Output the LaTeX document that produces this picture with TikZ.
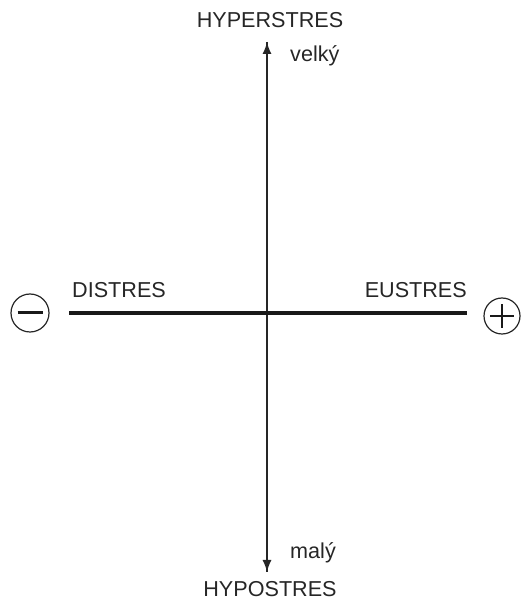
\documentclass[tikz,border=0pt]{standalone}
\usepackage{fontspec}
\setmainfont{Liberation Sans}
\usetikzlibrary{arrows.meta}
\begin{document}
\begin{tikzpicture}[x=1pt,y=1pt,
  lbl/.style={inner sep=0pt,font=\fontsize{21.6}{26}\selectfont,text=black!85},
  axis/.style={line width=1.5pt,draw=black!85,-{Latex[length=12pt,width=9pt]}},
  hline/.style={line width=3.5pt,draw=black!90},
  sign/.style={circle,draw=black!85,line width=1.2pt,minimum size=38pt,inner sep=0pt},
  bar/.style={line width=3pt,draw=black!90}]
\useasboundingbox (0,0) rectangle (523,603);
% vertical axis
\coordinate (vbot) at (267,31);
\coordinate (vtop) at (267,561);
\draw[axis] (vbot) -- (vtop);
\draw[axis] (vtop) -- (vbot);
% horizontal axis
\coordinate (hl) at (69,290);
\coordinate (hr) at (467,290);
\draw[hline] (hl) -- (hr);
% labels
\node[lbl,anchor=base] (hyper) at (270,575) {HYPERSTRES};
\node[lbl,anchor=base west] (velky) at (290,541) {velký};
\node[lbl,anchor=base west] (maly) at (290,45) {malý};
\node[lbl,anchor=base] (hypo) at (270,6) {HYPOSTRES};
\node[lbl,anchor=base west] (dis) at (72,305) {DISTRES};
\node[lbl,anchor=base east] (eu) at (467,305) {EUSTRES};
% signs
\node[sign] (minus) at (30,290) {};
\draw[bar] ([xshift=-12.5pt]minus.center) -- ([xshift=12.5pt]minus.center);
\node[sign,minimum size=36pt] (plus) at (502,287) {};
\draw[bar,line width=2.6pt] ([xshift=-12pt]plus.center) -- ([xshift=12pt]plus.center);
\draw[bar,line width=2.6pt] ([yshift=-12pt]plus.center) -- ([yshift=12pt]plus.center);
\end{tikzpicture}
\end{document}
